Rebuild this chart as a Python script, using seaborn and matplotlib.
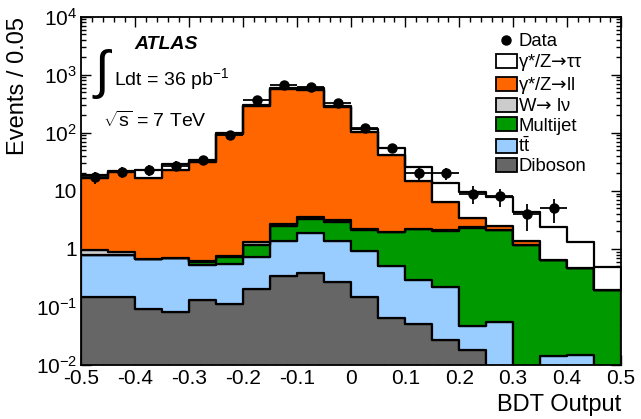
import numpy as np
import pandas as pd
import matplotlib
matplotlib.use('Agg')
import matplotlib.pyplot as plt
from matplotlib.patches import Patch
from matplotlib.lines import Line2D
from matplotlib.ticker import FixedLocator, FixedFormatter, MultipleLocator, LogLocator, NullFormatter
import seaborn as sns

# BDT bins (width 0.05)
bin_edges = [round(v, 3) for v in np.linspace(-0.5, 0.5, 21)]
bin_centers = np.round((np.array(bin_edges[:-1]) + np.array(bin_edges[1:])) / 2, 3)

# expected events per bin
ztautau = [2.0, 1.0, 6.3, 6.0, 3.0, 5.0, 9.0, 24.0, 49.0, 12.0, 13.0, 12.5, 11.5, 7.6, 6.0, 5.2, 3.0, 1.72, 0.84, 0.284]
zll = [16.0, 20.1, 15.9, 21.8, 30.4, 95.3, 293.7, 562.0, 551.0, 277.0, 102.8, 40.0, 12.3, 4.2, 1.1, 0.35, 0.2, 0.0, 0.0, 0.0]
wlnu = [0.18, 0.10, 0.01, 0.01, 0.02, 0.02, 0.17, 0.20, 0.30, 0.31, 0.07, 0.04, 0.03, 0.03, 0.05, 0.02, 0.01, 0.0, 0.0, 0.0]
multijet = [0.0, 0.0, 0.0, 0.0, 0.08, 0.18, 0.44, 1.12, 1.44, 1.47, 1.21, 1.44, 1.90, 1.85, 2.25, 2.07, 1.17, 0.636, 0.445, 0.196]
ttbar = [0.64, 0.63, 0.569, 0.617, 0.388, 0.429, 0.53, 1.04, 1.47, 1.11, 0.77, 0.436, 0.239, 0.193, 0.028, 0.056, 0.0, 0.014, 0.015, 0.0]
diboson = [0.15, 0.15, 0.091, 0.083, 0.132, 0.111, 0.20, 0.34, 0.39, 0.27, 0.15, 0.064, 0.051, 0.027, 0.018, 0.0, 0.0, 0.0, 0.0, 0.0]

# observed data (bins with entries)
data_x = bin_centers[:18]
data_y = [17, 21, 23, 27, 34, 91, 370, 673, 612, 325, 120, 54, 20, 20, 9, 8, 4, 5]

arrow = r'$\mathsf{→}$'
labels = ['γ*/Z' + arrow + 'ττ', 'γ*/Z' + arrow + 'll', 'W' + arrow + ' lν', 'Multijet',
          r't$\mathdefault{\bar{t}}$', 'Diboson']
colors = ['#ffffff', '#ff6600', '#cccccc', '#009900', '#99ccff', '#666666']

y_ticks = [1e-2, 1e-1, 1, 10, 1e2, 1e3, 1e4]
y_tick_labels = [r'$\mathdefault{10^{-2}}$', r'$\mathdefault{10^{-1}}$', '1', '10',
                 r'$\mathdefault{10^{2}}$', r'$\mathdefault{10^{3}}$', r'$\mathdefault{10^{4}}$']
x_ticks = [-0.5, -0.4, -0.3, -0.2, -0.1, 0.0, 0.1, 0.2, 0.3, 0.4, 0.5]
x_tick_labels = ['-0.5', '-0.4', '-0.3', '-0.2', '-0.1', '0', '0.1', '0.2', '0.3', '0.4', '0.5']

sns.set_style('ticks')
plt.rcParams['font.family'] = ['Liberation Sans', 'DejaVu Sans']
plt.rcParams['mathtext.fontset'] = 'custom'
plt.rcParams['mathtext.rm'] = 'Liberation Sans'
plt.rcParams['mathtext.it'] = 'Liberation Sans:italic'
plt.rcParams['mathtext.bf'] = 'Liberation Sans:bold'
plt.rcParams['mathtext.sf'] = 'DejaVu Sans'
plt.rcParams['axes.unicode_minus'] = False
for key in ['text.color', 'axes.labelcolor', 'xtick.color', 'ytick.color', 'axes.edgecolor']:
    plt.rcParams[key] = 'black'

rows = []
for lab, vals in zip(labels, [ztautau, zll, wlnu, multijet, ttbar, diboson]):
    for xc, v in zip(bin_centers, vals):
        rows.append({'bdt': xc, 'events': v, 'process': lab})
df = pd.DataFrame(rows)

fig = plt.figure(figsize=(6.41, 4.19), dpi=100)
ax = fig.add_axes([0.127, 0.129, 0.842, 0.831])

sns.histplot(data=df, x='bdt', weights='events', hue='process', hue_order=labels,
             multiple='stack', bins=bin_edges, element='step', fill=True,
             palette=dict(zip(labels, colors)), alpha=1, edgecolor='black',
             linewidth=1.6, legend=False, ax=ax)

ax.errorbar(data_x, data_y, yerr=np.sqrt(data_y), xerr=0.025, fmt='o', color='black',
            ms=6.5, elinewidth=1.3, capsize=0, zorder=10)

ax.set_yscale('log')
ax.set_ylim(1e-2, 1e4)
ax.set_xlim(-0.5, 0.5)

ax.yaxis.set_major_locator(FixedLocator(y_ticks))
ax.yaxis.set_major_formatter(FixedFormatter(y_tick_labels))
ax.yaxis.set_minor_locator(LogLocator(base=10, subs=np.arange(2, 10), numticks=20))
ax.yaxis.set_minor_formatter(NullFormatter())
ax.xaxis.set_major_locator(FixedLocator(x_ticks))
ax.xaxis.set_major_formatter(FixedFormatter(x_tick_labels))
ax.xaxis.set_minor_locator(MultipleLocator(0.02))

ax.tick_params(which='both', direction='in', top=True, right=True, width=1, labelsize=15, pad=3)
ax.tick_params(which='major', length=7)
ax.tick_params(which='minor', length=3.5)
for s in ax.spines.values():
    s.set_linewidth(1.3)

ax.set_xlabel('BDT Output', fontsize=17, loc='right', labelpad=4)
ax.set_ylabel('Events / 0.05', fontsize=17, loc='top', labelpad=5)

ax.text(0.099, 0.919, 'ATLAS', transform=ax.transAxes, fontsize=14, fontweight='bold',
        fontstyle='italic', ha='left', va='center')
ax.text(0.02, 0.835, r'$\int$', transform=ax.transAxes, fontsize=38, ha='left', va='center')
ax.text(0.06, 0.82, r'Ldt = 36 pb$^{\mathdefault{-1}}$', transform=ax.transAxes, fontsize=14,
        ha='left', va='center')
ax.text(0.04, 0.70, r'$\sqrt{\mathdefault{s}}$ = 7 TeV', transform=ax.transAxes, fontsize=14,
        ha='left', va='center')

handles = [Line2D([], [], marker='o', color='black', ls='none', ms=6.5)]
handles += [Patch(facecolor=c, edgecolor='black', linewidth=1.3) for c in colors]
ax.legend(handles, ['Data'] + labels, loc='upper left', bbox_to_anchor=(0.755, 0.975),
          frameon=False, fontsize=13.3, handlelength=1.1, handleheight=0.8,
          handletextpad=0.1, labelspacing=0.1, borderaxespad=0)

fig.savefig('out.png', dpi=100)
